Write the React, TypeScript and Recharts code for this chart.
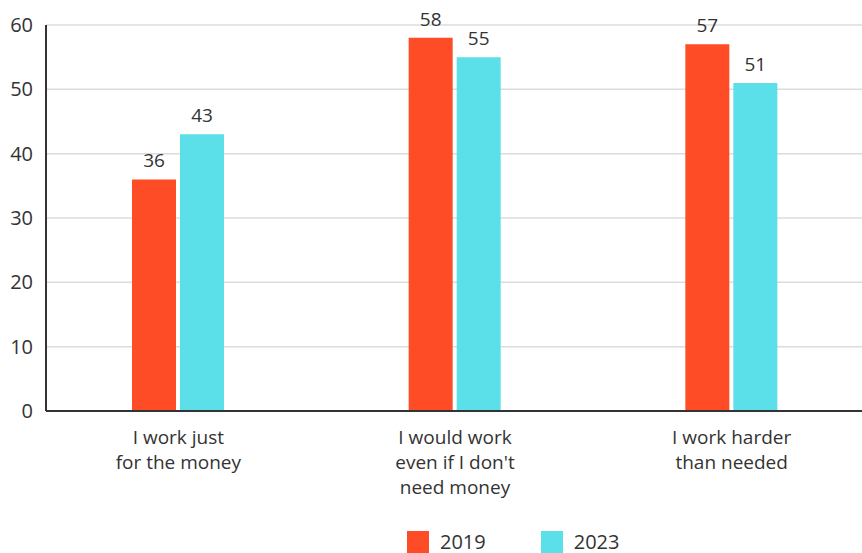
import * as React from "react";
import { BarChart, Bar, XAxis, YAxis, CartesianGrid, LabelList, Legend } from "recharts";

const categories = ["I work just\nfor the money", "I would work\neven if I don't\nneed money", "I work harder\nthan needed"];
const values2019 = [36, 58, 57];
const values2023 = [43, 55, 51];
const yTicks = [0, 10, 20, 30, 40, 50, 60];

const ORANGE = "#FE4C27";
const CYAN = "#5BDFE8";
const TEXT = "#333333";
const FONT = "'Open Sans', sans-serif";

const data = categories.map((c, i) => ({
  category: c,
  y2019: values2019[i],
  y2023: values2023[i],
}));

function CategoryTick(props: any) {
  const { x, y, payload } = props;
  const lines = String(payload.value).split("\n");
  return (
    <g transform={`translate(${x},${y})`}>
      {lines.map((line, i) => (
        <text
          key={i}
          x={0}
          y={i * 25 + 25}
          textAnchor="middle"
          fill={TEXT}
          fontSize={19}
          fontFamily={FONT}
        >
          {line}
        </text>
      ))}
    </g>
  );
}

function LegendContent() {
  const items = [
    { label: "2019", color: ORANGE },
    { label: "2023", color: CYAN },
  ];
  return (
    <div style={{ display: "flex", gap: 55, fontFamily: FONT, fontSize: 20, lineHeight: "22px", color: TEXT, height: 22 }}>
      {items.map((it) => (
        <div key={it.label} style={{ display: "flex", alignItems: "center", gap: 11 }}>
          <span style={{ width: 22, height: 22, background: it.color, display: "inline-block" }} />
          <span>{it.label}</span>
        </div>
      ))}
    </div>
  );
}

export default function App() {
  return (
    <div style={{ position: "absolute", top: 0, left: 0, width: 862, height: 553, overflow: "hidden", background: "#fff" }}>
      <BarChart
        width={870}
        height={553}
        data={data}
        margin={{ top: 25, right: 0, bottom: 0, left: 0 }}
        barSize={44}
        barGap={4}
      >
        <CartesianGrid vertical={false} stroke="#dcdcdc" strokeWidth={1.5} />
        <XAxis
          dataKey="category"
          interval={0}
          height={120}
          tickLine={false}
          axisLine={{ stroke: TEXT, strokeWidth: 2 }}
          tick={<CategoryTick />}
          padding={{ left: -6, right: 0 }}
        />
        <YAxis
          domain={[0, 60]}
          ticks={yTicks}
          width={46}
          tickLine={false}
          axisLine={{ stroke: TEXT, strokeWidth: 2 }}
          tick={{ fill: TEXT, fontSize: 20, fontFamily: FONT }}
          tickMargin={7}
        />
        <Legend
          verticalAlign="bottom"
          content={<LegendContent />}
          wrapperStyle={{ left: 407, top: 531, bottom: "auto", width: "auto", height: 22 }}
        />
        <Bar dataKey="y2019" name="2019" fill={ORANGE} isAnimationActive={false}>
          <LabelList dataKey="y2019" position="top" offset={12} fill={TEXT} fontSize={19} fontFamily={FONT} />
        </Bar>
        <Bar dataKey="y2023" name="2023" fill={CYAN} isAnimationActive={false}>
          <LabelList dataKey="y2023" position="top" offset={12} fill={TEXT} fontSize={19} fontFamily={FONT} />
        </Bar>
      </BarChart>
    </div>
  );
}
